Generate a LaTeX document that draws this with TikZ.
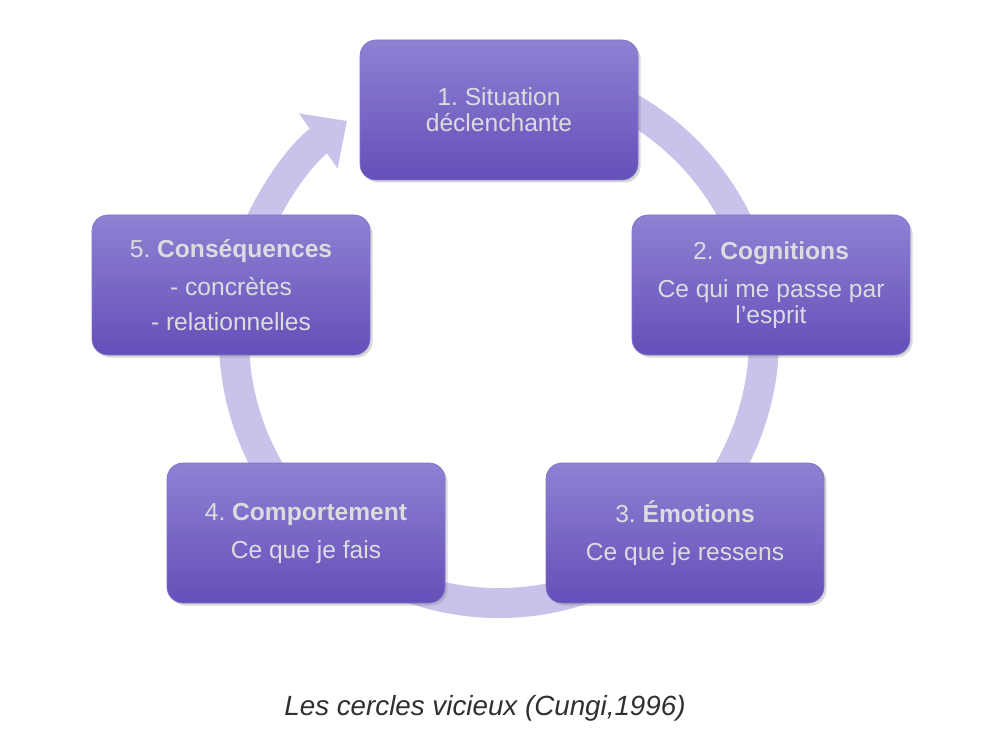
\documentclass[tikz,border=0pt]{standalone}
\usepackage{fontspec}
\setmainfont{Liberation Sans}
\frenchspacing
\usetikzlibrary{arrows.meta,shadows}
\definecolor{anneau}{HTML}{C9C3EB}
\definecolor{boitehaut}{HTML}{8F81D3}
\definecolor{boitebas}{HTML}{654FB9}
\definecolor{texteboite}{HTML}{DCDCDE}
\definecolor{legende}{HTML}{303030}
\tikzset{
	etape/.style={rectangle, rounded corners=0.32cm, minimum width=5.56cm, minimum height=2.8cm,
		top color=boitehaut, bottom color=boitebas, draw=boitebas!80!white, line width=0.4pt,
		drop shadow={opacity=0.3, shadow xshift=0.05cm, shadow yshift=-0.05cm},
		text=texteboite, align=center, font=\fontsize{14}{14.6}\selectfont},
	anneau/.style={draw=anneau, line width=0.6cm, -{Triangle[length=0.7cm, width=1.3cm]}}
}

\begin{document}
\begin{tikzpicture}
				\useasboundingbox[fill=white] (0,0) rectangle (20,15);
				
				\coordinate (centre) at (9.98,8.24);
				\draw[anneau] (centre) ++(70:5.3) arc[start angle=70, end angle=-235, radius=5.3];
				
				\node[etape] (situation) at (9.98,12.8) {1. Situation\\déclenchante};
				\node[etape] (cognitions) at (15.42,9.3) {2. \textbf{Cognitions}\\[7pt]Ce qui me passe par\\l’esprit};
				\node[etape] (emotions) at (13.7,4.34) {3. \textbf{Émotions}\\[7pt]Ce que je ressens};
				\node[etape] (comportement) at (6.12,4.34) {4. \textbf{Comportement}\\[7pt]Ce que je fais};
				\node[etape] (consequences) at (4.62,9.3) {5. \textbf{Conséquences}\\[7pt]- concrètes\\[5pt]- relationnelles};
				
				\node[text=legende, font=\fontsize{15.8}{18}\selectfont\itshape] (titre) at (9.7,0.84) {Les cercles vicieux (Cungi,1996)};
\end{tikzpicture}
\end{document}
